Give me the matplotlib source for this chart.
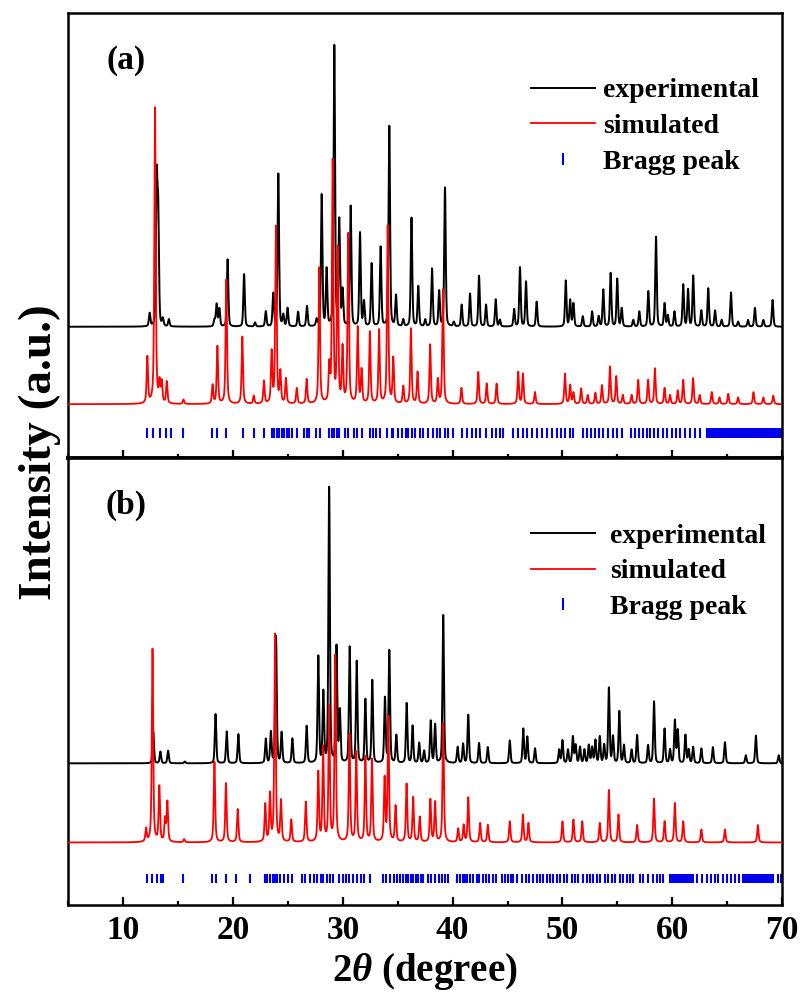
#!/usr/bin/env python3
"""Redraw the two-panel PXRD comparison (experimental / simulated / Bragg peaks)."""

import matplotlib

matplotlib.use("Agg")
import matplotlib.pyplot as plt
import matplotlib.ticker as mticker
import numpy as np
from matplotlib.lines import Line2D

# ---------------------------------------------------------------- data
# peak positions (2theta, deg) and heights above baseline
a_exp_pos = [12.40, 13.04, 13.18, 13.60, 14.15, 18.30, 18.50, 18.75, 19.50, 21.00,
             22.00, 22.98, 23.66, 24.12, 24.57, 24.96, 25.92, 26.73, 27.60, 28.07,
             28.52, 29.22, 29.67, 29.97, 30.71, 31.56, 31.92, 32.62, 33.44, 34.23,
             34.84, 35.50, 36.25, 36.87, 37.50, 38.12, 38.77, 39.30, 40.10, 40.82,
             41.58, 42.40, 43.04, 43.92, 44.30, 45.60, 46.13, 46.68, 47.65, 50.30,
             50.70, 51.00, 51.85, 52.70, 53.30, 53.72, 54.39, 54.99, 55.40, 56.45,
             57.00, 57.82, 58.52, 59.30, 59.60, 60.20, 61.00, 61.44, 61.91, 62.65,
             63.28, 63.90, 64.50, 65.35, 66.00, 66.90, 67.53, 68.30, 69.14]
a_exp_int = [2.9, 32.0, 24.0, 1.6, 1.6, 1.5, 5.0, 4.0, 15.1, 11.8,
             0.9, 3.4, 7.3, 34.3, 2.5, 4.1, 3.3, 4.6, 1.5, 29.5,
             12.7, 62.9, 23.6, 7.9, 27.0, 21.0, 5.5, 14.1, 17.8, 45.0,
             6.9, 1.5, 24.4, 9.0, 1.5, 13.0, 7.9, 31.2, 1.0, 4.9,
             7.4, 11.4, 4.9, 6.1, 1.5, 3.9, 13.3, 10.1, 5.6, 10.3,
             5.9, 5.2, 2.3, 3.4, 2.3, 8.3, 12.0, 10.7, 4.1, 1.5,
             3.4, 7.9, 20.2, 5.2, 2.5, 3.4, 9.4, 8.3, 11.4, 3.6,
             8.6, 3.6, 1.5, 7.7, 1.1, 1.5, 4.2, 1.5, 6.0]

a_sim_pos = [12.19, 12.89, 13.30, 13.50, 13.96, 15.48, 18.13, 18.57, 19.38, 20.84,
             21.88, 22.81, 23.51, 23.90, 24.30, 24.81, 25.80, 26.70, 27.85, 28.76,
             29.07, 29.52, 29.97, 30.49, 31.35, 31.70, 32.46, 33.30, 34.08, 34.59,
             35.50, 36.20, 36.80, 37.95, 38.65, 39.12, 40.80, 42.33, 43.10, 44.00,
             45.97, 46.40, 47.50, 50.23, 50.70, 51.00, 51.70, 52.30, 53.00, 53.60,
             54.33, 54.90, 55.50, 56.30, 56.90, 57.80, 58.42, 59.30, 59.80, 60.50,
             61.00, 61.90, 62.50, 63.60, 64.30, 65.10, 66.00, 67.40, 68.30, 69.20]
a_sim_int = [10.4, 66.5, 4.4, 4.6, 4.9, 1.0, 4.2, 12.9, 27.9, 15.1,
             1.8, 5.1, 11.4, 39.7, 6.9, 5.6, 3.5, 5.5, 30.5, 7.9,
             54.1, 34.3, 12.2, 38.0, 17.0, 7.4, 16.1, 16.5, 39.9, 10.1,
             3.9, 16.9, 7.1, 13.3, 5.4, 25.7, 3.6, 7.2, 4.6, 4.6,
             7.2, 6.8, 2.7, 6.8, 4.2, 2.5, 3.5, 2.0, 2.5, 4.2,
             8.4, 6.2, 2.0, 2.0, 5.4, 5.4, 8.0, 3.6, 2.0, 3.0,
             5.4, 5.8, 2.0, 2.7, 1.5, 2.3, 1.5, 2.7, 1.5, 1.9]

a_bragg = [12.19, 12.75, 13.30, 13.85, 14.35, 15.47, 18.11, 18.56, 19.35, 20.87,
           21.90, 22.84, 23.51, 23.72, 23.97, 24.18, 24.42, 24.64, 24.88, 25.12,
           25.36, 25.79, 26.46, 26.70, 26.94, 27.55, 27.91, 28.76, 28.98, 29.19,
           29.43, 29.68, 30.19, 30.50, 31.01, 31.25, 31.71, 32.47, 32.77, 33.01,
           33.38, 34.05, 34.44, 34.59, 35.05, 35.35, 35.75, 35.96, 36.26, 36.57,
           37.02, 37.33, 37.78, 38.24, 38.54, 38.84, 39.30, 39.60, 40.05, 40.81,
           41.27, 41.72, 42.12, 42.48, 43.03, 43.55, 43.94, 44.30, 44.61, 45.52,
           45.97, 46.43, 46.79, 47.19, 47.64, 48.10, 48.55, 49.01, 49.47, 49.83,
           50.22, 50.68, 50.98, 51.89, 52.20, 52.56, 52.96, 53.35, 53.72, 54.17,
           54.57, 54.93, 55.39, 56.20, 56.60, 56.99, 57.36, 57.66, 57.97, 58.33,
           58.72, 59.12, 59.48, 59.94, 60.33, 60.70, 61.15, 61.61, 62.06, 62.52,
           63.13, 63.25, 63.38, 63.50, 63.62, 63.75, 63.87, 64.00, 64.12, 64.24,
           64.37, 64.49, 64.61, 64.74, 64.86, 64.98, 65.11, 65.23, 65.36, 65.48,
           65.60, 65.73, 65.85, 65.97, 66.10, 66.22, 66.35, 66.47, 66.59, 66.72,
           66.84, 66.96, 67.09, 67.21, 67.34, 67.46, 67.58, 67.71, 67.83, 67.95,
           68.08, 68.20, 68.33, 68.45, 68.57, 68.70, 68.82, 68.94, 69.07, 69.19,
           69.32, 69.44, 69.56, 69.69, 69.81, 69.93]

b_exp_pos = [12.73, 13.38, 14.08, 15.60, 18.40, 19.42, 20.48, 22.98, 23.44, 23.91,
             24.42, 25.40, 26.70, 27.76, 28.22, 28.75, 29.42, 29.72, 30.62, 31.26,
             32.05, 32.68, 33.83, 34.23, 34.87, 35.81, 36.35, 36.95, 37.40, 38.00,
             38.40, 39.14, 40.45, 40.95, 41.42, 42.40, 43.20, 45.20, 46.43, 46.80,
             47.50, 49.70, 50.00, 50.50, 50.95, 51.20, 51.60, 52.00, 52.40, 52.70,
             53.00, 53.40, 53.80, 54.23, 54.60, 55.18, 55.60, 56.30, 56.80, 57.80,
             58.34, 59.30, 59.80, 60.24, 60.50, 61.20, 61.50, 61.90, 62.65, 63.70,
             64.80, 66.70, 67.62, 69.70]
b_exp_int = [7.1, 2.6, 2.8, 0.4, 11.0, 7.1, 6.5, 5.4, 6.9, 28.4,
             6.8, 5.5, 8.3, 23.8, 15.7, 61.5, 25.9, 11.5, 25.9, 22.7,
             14.2, 18.5, 14.5, 25.1, 6.2, 13.4, 8.3, 4.5, 2.7, 9.4,
             8.6, 33.1, 3.6, 4.3, 10.8, 4.5, 3.6, 5.1, 7.7, 5.9,
             3.3, 3.0, 5.1, 3.0, 5.9, 4.0, 3.6, 3.0, 4.0, 3.5,
             5.1, 5.9, 4.0, 16.8, 5.9, 11.6, 4.0, 3.0, 6.3, 4.0,
             13.8, 7.7, 3.0, 9.5, 7.3, 6.3, 3.0, 3.6, 3.3, 3.6,
             4.7, 1.8, 6.2, 1.8]

b_sim_pos = [12.07, 12.66, 13.28, 13.80, 14.01, 15.54, 18.30, 19.35, 20.42, 22.93,
             23.36, 23.82, 24.36, 25.30, 26.62, 27.76, 28.20, 28.75, 29.30, 30.60,
             31.22, 32.05, 32.65, 33.80, 34.14, 34.80, 35.80, 36.40, 37.00, 37.97,
             38.40, 39.14, 40.50, 41.00, 41.42, 42.50, 43.20, 45.20, 46.40, 46.90,
             50.00, 51.00, 51.80, 53.40, 54.23, 55.10, 56.80, 58.34, 59.30, 60.24,
             61.00, 62.65, 64.80, 67.80]
b_sim_int = [2.9, 43.2, 12.3, 5.0, 8.9, 0.7, 18.0, 13.2, 7.4, 8.4,
             10.5, 46.4, 9.1, 5.0, 9.0, 15.5, 21.0, 30.0, 41.5, 24.0,
             20.0, 19.0, 18.4, 14.0, 27.8, 8.0, 13.0, 10.0, 5.6, 9.5,
             8.9, 26.6, 3.0, 3.8, 10.0, 4.3, 3.9, 4.7, 6.2, 4.3,
             4.7, 5.1, 4.7, 4.3, 11.7, 6.2, 3.9, 9.8, 4.7, 8.8,
             4.7, 2.9, 2.9, 3.9]

b_bragg = [12.13, 12.58, 13.04, 13.40, 13.65, 15.47, 18.05, 18.44, 19.35, 20.26,
           21.54, 22.90, 23.12, 23.36, 23.60, 23.82, 24.03, 24.27, 24.64, 25.03,
           25.33, 26.25, 26.55, 27.00, 27.37, 27.67, 27.98, 28.22, 28.52, 28.83,
           29.13, 29.68, 29.98, 30.28, 30.59, 30.95, 31.31, 31.62, 31.92, 32.47,
           33.68, 33.93, 34.29, 34.65, 34.90, 35.20, 35.50, 35.75, 35.96, 36.17,
           36.42, 36.66, 36.87, 37.08, 37.33, 37.78, 38.02, 38.39, 38.78, 39.00,
           39.30, 39.60, 40.36, 40.66, 40.90, 41.12, 41.33, 41.57, 41.88, 42.18,
           42.42, 42.73, 43.03, 43.33, 43.70, 43.94, 44.46, 44.76, 45.00, 45.28,
           45.52, 45.88, 46.28, 46.67, 46.98, 47.28, 47.64, 47.95, 48.25, 48.55,
           48.86, 49.16, 49.47, 49.77, 50.13, 50.44, 50.83, 51.13, 51.44, 51.83,
           52.20, 52.50, 52.80, 53.11, 53.41, 53.87, 54.17, 54.47, 54.78, 55.23,
           55.54, 55.84, 56.14, 56.39, 57.06, 57.36, 57.81, 58.21, 58.57, 58.88,
           59.18, 59.79, 59.91, 60.03, 60.15, 60.27, 60.39, 60.51, 60.63, 60.75,
           60.87, 60.99, 61.11, 61.23, 61.35, 61.47, 61.59, 61.71, 61.83, 61.91,
           62.22, 62.67, 63.13, 63.49, 63.89, 64.19, 64.58, 64.95, 65.31, 65.71,
           66.10, 66.47, 66.59, 66.71, 66.83, 66.95, 67.07, 67.19, 67.31, 67.43,
           67.55, 67.67, 67.79, 67.91, 68.03, 68.15, 68.27, 68.39, 68.51, 68.63,
           68.75, 68.87, 68.99, 69.11, 69.20, 69.65, 69.90]

# vertical offsets of the stacked traces (panel units 0-100)
a_offsets = {"exp": 29.5, "sim": 12.1, "bragg": (4.4, 6.7)}
b_offsets = {"exp": 31.7, "sim": 14.0, "bragg": (4.9, 7.0)}

x_ticks = [10, 20, 30, 40, 50, 60, 70]
legend_labels = ["experimental", "simulated", "Bragg peak"]

SERIF = "Liberation Serif"
plt.rcParams.update({
    "mathtext.fontset": "custom",
    "mathtext.rm": "Liberation Serif:bold",
    "mathtext.it": "Liberation Serif:italic:bold",
    "mathtext.bf": "Liberation Serif:bold",
})


def pattern(x, centers, heights, fwhm, eta):
    """Pseudo-Voigt rendering of a peak list."""
    y = np.zeros_like(x)
    for c, h in zip(centers, heights):
        d = 2.0 * (x - c) / fwhm
        y += h * (eta / (1.0 + d * d) + (1.0 - eta) * np.exp(-np.log(2) * d * d))
    return y


def draw_panel(ax, exp, sim, bragg, offs, tag, legend_anchor, textpad):
    x = np.linspace(5, 70, 13001)
    ax.plot(x, offs["exp"] + pattern(x, *exp, fwhm=0.16, eta=0.35),
            color="black", lw=1.4, zorder=3)
    ax.plot(x, offs["sim"] + pattern(x, *sim, fwhm=0.15, eta=0.6),
            color="#ff0000", lw=1.3, zorder=4)
    ax.vlines(bragg, *offs["bragg"], color="#0000ee", lw=1.5, zorder=2)

    ax.set_xlim(5, 70)
    ax.set_ylim(0, 100)
    ax.set_yticks([])
    ax.xaxis.set_major_locator(mticker.FixedLocator(x_ticks))
    ax.xaxis.set_minor_locator(mticker.MultipleLocator(5))
    ax.tick_params(axis="x", which="major", direction="in", length=6, width=1.6)
    ax.tick_params(axis="x", which="minor", direction="in", length=3.2, width=1.6)
    for sp in ax.spines.values():
        sp.set_linewidth(1.8)

    ax.text(0.081, 0.893, tag, transform=ax.transAxes, ha="center", va="center",
            fontsize=24, fontweight="bold", family=SERIF)

    handles = [
        Line2D([], [], color="black", lw=1.4),
        Line2D([], [], color="#ff0000", lw=1.3),
        Line2D([], [], color="#0000ee", ls="none", marker="|", markersize=8,
               markeredgewidth=1.5),
    ]
    ax.legend(handles, legend_labels, loc="upper left", bbox_to_anchor=legend_anchor,
              frameon=False, handlelength=2.3, handletextpad=textpad,
              labelspacing=0.37, borderpad=0, borderaxespad=0,
              prop={"family": SERIF, "weight": "bold", "size": 20})


fig = plt.figure(figsize=(8.02, 9.94), dpi=100)
fig.patch.set_facecolor("white")
ax_a = fig.add_axes([0.0853, 0.5392, 0.8898, 0.4477])
ax_b = fig.add_axes([0.0853, 0.0895, 0.8898, 0.4497], sharex=ax_a)

draw_panel(ax_a, (a_exp_pos, a_exp_int), (a_sim_pos, a_sim_int), a_bragg,
           a_offsets, "(a)", (0.648, 0.854), 0.3)
draw_panel(ax_b, (b_exp_pos, b_exp_int), (b_sim_pos, b_sim_int), b_bragg,
           b_offsets, "(b)", (0.648, 0.854), 0.55)

ax_a.spines["bottom"].set_linewidth(2.6)
ax_a.tick_params(axis="x", labelbottom=False)
ax_b.spines["top"].set_linewidth(2.6)

for lab in ax_b.get_xticklabels():
    lab.set_fontfamily(SERIF)
    lab.set_fontweight("bold")
    lab.set_fontsize(24)
ax_b.tick_params(axis="x", which="major", pad=7)

ax_b.set_xlabel(r"2$\mathit{\theta}$ (degree)", fontsize=28, fontweight="bold",
                family=SERIF, labelpad=4)
fig.text(0.049, 0.545, "Intensity (a.u.)", rotation=90, ha="center", va="center",
         fontsize=34, fontweight="bold", family=SERIF)

fig.savefig("out.png", dpi=100, facecolor="white")
